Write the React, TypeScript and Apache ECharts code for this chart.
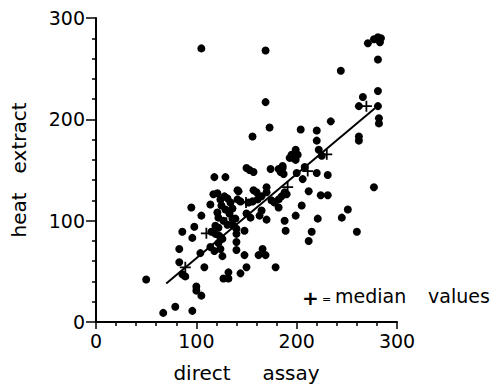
import React, { useEffect, useRef } from "react";
import * as echarts from "echarts";

const xTicks = [0, 100, 200, 300];
const yTicks = [0, 100, 200, 300];

const points: number[][] = [
  [105, 270], [169, 268], [271, 275], [277, 279], [281, 281], [284, 280], [283, 276], [281, 259],
  [244, 248], [169, 217], [266, 222], [281, 228], [262, 213], [281, 213], [282, 201], [282, 196],
  [234, 198], [173, 192], [204, 190], [220, 189], [262, 183], [262, 179], [156, 183], [220, 179],
  [199, 170], [195, 165], [201, 165], [199, 160], [193, 162], [222, 170], [225, 164], [174, 151],
  [150, 152], [153, 150], [157, 148], [182, 151], [186, 154], [184, 148], [187, 146], [200, 147],
  [208, 153], [220, 147], [231, 145], [206, 141], [212, 129], [224, 125], [231, 125], [205, 115],
  [199, 105], [221, 102], [188, 100], [189, 90], [215, 89], [212, 80], [245, 103], [251, 111],
  [260, 89], [277, 133], [196, 162], [186, 152],
  [190, 126], [185, 124], [182, 121], [178, 118], [182, 113], [170, 133], [170, 128], [165, 124],
  [161, 121], [157, 130], [156, 119], [152, 118], [142, 129], [141, 121], [144, 119], [150, 107],
  [154, 103], [163, 105], [170, 101], [148, 90], [140, 87], [140, 79], [148, 66], [162, 66],
  [166, 72], [169, 66], [179, 54], [150, 54], [144, 48], [132, 49], [127, 43], [132, 43],
  [108, 54], [104, 68], [100, 35], [100, 31], [105, 26], [96, 11], [79, 15], [67, 9],
  [50, 42], [86, 47], [89, 45], [83, 59], [83, 72], [86, 89], [96, 83], [98, 94],
  [95, 113], [105, 105], [115, 89], [114, 74], [118, 70], [124, 72], [126, 65], [123, 85],
  [122, 93], [119, 95], [114, 116], [118, 143], [129, 143], [117, 126], [121, 127], [124, 121],
  [128, 124], [131, 122], [134, 118], [125, 115], [122, 103], [129, 111], [133, 107], [136, 102],
  [139, 102], [137, 95], [140, 92], [121, 108], [141, 130], [119, 87], [122, 78], [126, 82],
  [140, 71], [136, 112], [127, 100], [131, 96], [160, 128], [175, 120], [188, 128], [165, 110],
];

const medians: number[][] = [
  [89, 54], [110, 87.5], [130, 98], [149.5, 118], [191, 133], [211, 149], [230, 165.5], [269.5, 213],
];

const fitLine: number[][] = [
  [70, 38], [278, 211],
];

const FONT = "DejaVu Sans";
const INK = "#000";

export default function App() {
  const ref = useRef<HTMLDivElement>(null);
  useEffect(() => {
    if (!ref.current) return;
    const chart = echarts.init(ref.current, null, { renderer: "svg" });
    chart.setOption({
      animation: false,
      backgroundColor: "#fff",
      grid: { left: 96, right: 93, top: 18, bottom: 65 },
      xAxis: {
        type: "value",
        min: xTicks[0],
        max: xTicks[xTicks.length - 1],
        interval: 100,
        name: "direct     assay",
        nameLocation: "middle",
        nameGap: 41,
        nameTextStyle: { fontFamily: FONT, fontSize: 20, color: INK },
        axisLine: { show: true, onZero: false, lineStyle: { color: INK, width: 2 } },
        axisTick: { show: true, length: 7, lineStyle: { color: INK, width: 1.5 } },
        minorTick: { show: true, splitNumber: 5, length: 4, lineStyle: { color: INK, width: 1.5 } },
        axisLabel: { fontFamily: FONT, fontSize: 19, color: INK, margin: 9 },
        splitLine: { show: false },
      },
      yAxis: {
        type: "value",
        min: yTicks[0],
        max: yTicks[yTicks.length - 1],
        interval: 100,
        name: "heat   extract",
        nameLocation: "middle",
        nameGap: 67,
        nameTextStyle: { fontFamily: FONT, fontSize: 20, color: INK },
        axisLine: { show: true, onZero: false, lineStyle: { color: INK, width: 2 } },
        axisTick: { show: true, length: 10, lineStyle: { color: INK, width: 1.5 } },
        minorTick: { show: true, splitNumber: 5, length: 4, lineStyle: { color: INK, width: 1.5 } },
        axisLabel: { fontFamily: FONT, fontSize: 19, color: INK, margin: 11 },
        splitLine: { show: false },
      },
      series: [
        {
          type: "scatter",
          data: points,
          symbol: "circle",
          symbolSize: 8,
          itemStyle: { color: INK, opacity: 1 },
          z: 3,
        },
        {
          type: "line",
          data: fitLine,
          symbol: "none",
          lineStyle: { color: INK, width: 2 },
          z: 2,
        },
        {
          type: "scatter",
          data: medians,
          symbol: "path://M-0.8,-5H0.8V-0.8H5V0.8H0.8V5H-0.8V0.8H-5V-0.8H-0.8Z",
          symbolSize: 11,
          itemStyle: { color: INK, opacity: 1 },
          z: 4,
        },
      ],
      graphic: [
        {
          type: "text",
          left: 302,
          top: 288,
          style: { text: "+", fontFamily: FONT, fontSize: 20, fontWeight: "bold", fill: INK },
        },
        {
          type: "text",
          left: 322,
          top: 294,
          style: { text: "=", fontFamily: FONT, fontSize: 11, fill: INK },
        },
        {
          type: "text",
          left: 335,
          top: 286,
          style: { text: "median", fontFamily: FONT, fontSize: 19, fill: INK },
        },
        {
          type: "text",
          left: 428,
          top: 286,
          style: { text: "values", fontFamily: FONT, fontSize: 19, fill: INK },
        },
      ],
    });
    return () => chart.dispose();
  }, []);
  return <div ref={ref} style={{ width: 490, height: 388, position: "absolute", left: 0, top: 0 }} />;
}
